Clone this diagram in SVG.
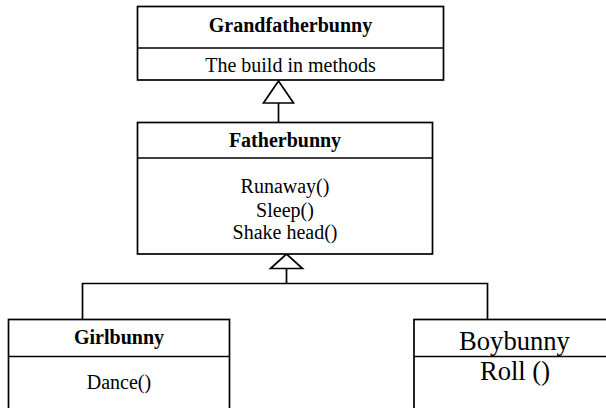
<svg xmlns="http://www.w3.org/2000/svg" width="606" height="408" viewBox="0 0 606 408">
<style>
.box{fill:#fff;stroke:#000;stroke-width:1.7}
.ln{fill:none;stroke:#000;stroke-width:1.7}
.tri{fill:#fff;stroke:#000;stroke-width:1.7;stroke-linejoin:miter}
text{font-family:"Liberation Serif","Times New Roman",serif;fill:#000;text-anchor:middle}
.b{font-weight:bold;font-size:20px}
.r{font-size:20px}
.big{font-size:26.6px}
</style>
<rect width="606" height="408" fill="#fff"/>
<g id="connectors">
<line class="ln" x1="278.5" y1="103" x2="278.5" y2="123"/>
<polygon class="tri" points="278.5,81 263.5,103 293.5,103"/>
<polyline class="ln" points="82.5,319.5 82.5,283.5 487.5,283.5 487.5,319.5"/>
<line class="ln" x1="286.5" y1="268.5" x2="286.5" y2="283.5"/>
<polygon class="tri" points="286.5,254 270.5,268.5 302.5,268.5"/>
</g>
<g id="grandfatherbunny">
<rect class="box" x="137.5" y="6.5" width="306" height="73.5"/>
<line class="ln" x1="137.5" y1="48" x2="443.5" y2="48"/>
<text class="b" x="290.5" y="32">Grandfatherbunny</text>
<text class="r" x="290.5" y="72">The build in methods</text>
</g>
<g id="fatherbunny">
<rect class="box" x="137.5" y="122.5" width="295" height="131.5"/>
<line class="ln" x1="137.5" y1="158" x2="432.5" y2="158"/>
<text class="b" x="285" y="147">Fatherbunny</text>
<text class="r" x="285" y="193">Runaway()</text>
<text class="r" x="285" y="216.5">Sleep()</text>
<text class="r" x="285" y="238.5">Shake head()</text>
</g>
<g id="girlbunny">
<rect class="box" x="8.5" y="319.5" width="221" height="100"/>
<line class="ln" x1="8.5" y1="356.5" x2="229.5" y2="356.5"/>
<text class="b" x="119" y="343.5">Girlbunny</text>
<text class="r" x="119" y="388.5">Dance()</text>
</g>
<g id="boybunny">
<rect class="box" x="414" y="319.5" width="201" height="100"/>
<line class="ln" x1="414" y1="356.5" x2="615" y2="356.5"/>
<text class="big" x="514.5" y="350">Boybunny</text>
<text class="big" x="515" y="380">Roll ()</text>
</g>
</svg>
